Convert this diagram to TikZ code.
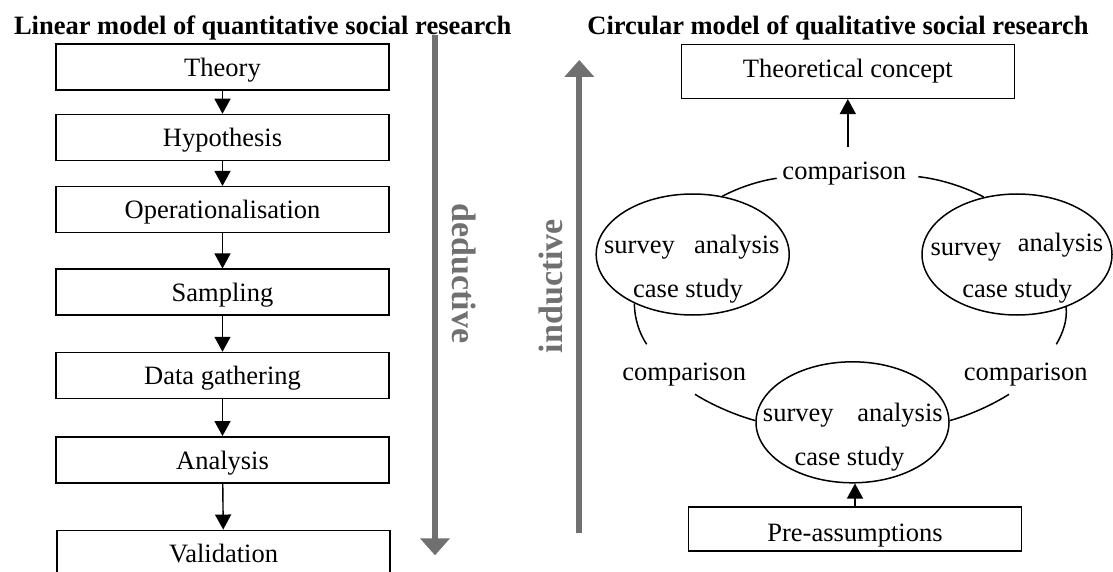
\documentclass[tikz,border=0pt]{standalone}
\usepackage{fontspec}
\setmainfont{Liberation Serif}
\usetikzlibrary{arrows.meta,shapes.geometric}
\definecolor{arrgray}{RGB}{112,112,112}
\begin{document}
\begin{tikzpicture}[x=1pt,y=-1pt,
  txt/.style={font=\fontsize{26.5}{30}\selectfont, inner sep=0pt},
  ttl/.style={font=\fontsize{26.5}{30}\selectfont\bfseries, inner sep=0pt, anchor=base},
  stepbox/.style={draw, line width=1.5pt, minimum width=333pt, minimum height=46pt, inner sep=0pt,
    text height=18.4pt, text depth=0pt, font=\fontsize{26.5}{30}\selectfont},
  conn/.style={line width=1.4pt, -{Triangle[length=15pt,width=16pt]}},
  bigarr/.style={line width=6pt, arrgray, -{Triangle[length=17pt,width=29pt]}},
  ell/.style={draw, ellipse, line width=1.5pt, minimum width=193pt, minimum height=121pt, inner sep=0pt},
  arcline/.style={line width=1.5pt},
  bigtxt/.style={font=\fontsize{34}{40}\selectfont\bfseries, text=arrgray, inner sep=0pt}
]
\useasboundingbox (0,0) rectangle (1113,572);

% titles
\node[ttl] (t1) at (262.7,34.3) {Linear model of quantitative social research};
\node[ttl] (t2) at (838,34.3) {Circular model of qualitative social research};

% linear model
\node[stepbox] (b1) at (222.5,67.2) {Theory};
\node[stepbox] (b2) at (222.5,137.5) {Hypothesis};
\node[stepbox] (b3) at (222.5,209.7) {Operationalisation};
\node[stepbox] (b4) at (222.5,292.2) {Sampling};
\node[stepbox] (b5) at (222.5,375.5) {Data gathering};
\node[stepbox] (b6) at (222.5,459.8) {Analysis};
\node[stepbox] (b7) at (223.5,553.3) {Validation};
\foreach \a/\b in {b1/b2,b2/b3,b3/b4,b4/b5,b5/b6,b6/b7}
  \draw[conn] (\a) -- (\b);

% deductive / inductive
\coordinate (dtop) at (435,35);
\coordinate (dbot) at (435,555.3);
\draw[bigarr] (dtop) -- (dbot);
\node[bigtxt, rotate=-90] (ded) at (464,273.5) {deductive};
\coordinate (ibot) at (579.3,533.3);
\coordinate (itop) at (579.3,60);
\draw[bigarr] (ibot) -- (itop);
\node[bigtxt, rotate=90] (ind) at (551,286) {inductive};

% circular model
\node[stepbox, minimum height=54pt, text depth=5pt] (theo) at (847.8,71.3) {Theoretical concept};
\node[stepbox, minimum height=44pt, text height=24pt] (pre) at (855,529) {Pre-assumptions};

\node[ell] (e1) at (692.7,254.5) {};
\node[ell, minimum width=190pt] (e2) at (1017,254.5) {};
\node[ell] (e3) at (852.5,422.3) {};

\node[txt, anchor=base] (e1a) at (639.5,253) {survey};
\node[txt, anchor=base] (e1b) at (736.8,253) {analysis};
\node[txt, anchor=base] (e1c) at (688,297.7) {case study};
\node[txt, anchor=base] (e2a) at (966,255) {survey};
\node[txt, anchor=base] (e2b) at (1060.5,251.7) {analysis};
\node[txt, anchor=base] (e2c) at (1017.2,297.7) {case study};
\node[txt, anchor=base] (e3a) at (798.3,421) {survey};
\node[txt, anchor=base] (e3b) at (900,421) {analysis};
\node[txt, anchor=base] (e3c) at (849.5,465.3) {case study};

\node[txt, anchor=base] (cT) at (844.3,180) {comparison};
\node[txt, anchor=base] (cL) at (684.2,380) {comparison};
\node[txt, anchor=base] (cR) at (1025.7,380) {comparison};

\coordinate (cTtop) at (848.3,146.7);
\draw[conn] (theo.south |- cTtop) -- (theo.south);
\draw[conn] (pre.north) -- (pre.north |- e3.south);

\coordinate (aT1) at (776.7,178.3);
\draw[arcline] (aT1) .. controls (758,181) and (738,188) .. (e1.63);
\coordinate (aT2) at (918.3,176.7);
\draw[arcline] (aT2) .. controls (940,179) and (965,187) .. (e2.120);
\coordinate (aL1) at (646.7,344.3);
\draw[arcline] (e1.220) .. controls (634.5,318) and (639,333) .. (aL1);
\coordinate (aL2) at (695,394.3);
\draw[arcline] (aL2) .. controls (712,405) and (735,415) .. (e3.179);
\coordinate (aR1) at (1056.3,344.3);
\draw[arcline] (e2.313) .. controls (1067.5,320) and (1063,333) .. (aR1);
\coordinate (aR2) at (1009,394.3);
\draw[arcline] (aR2) .. controls (992,405) and (970,415) .. (e3.1);
\end{tikzpicture}
\end{document}
